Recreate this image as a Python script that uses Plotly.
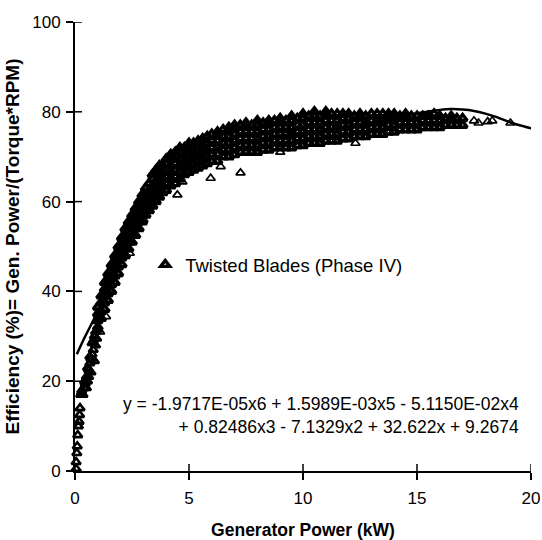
import plotly.graph_objects as go

# ---- data ----
low_x = [0.05, 0.05, 0.08, 0.1, 0.12, 0.15, 0.18, 0.2, 0.22, 0.25, 0.28, 0.3, 0.35, 0.4, 0.42, 0.45,
         0.5, 0.5, 0.55, 0.6, 0.6, 0.65, 0.7, 0.7, 0.75, 0.75, 0.8, 0.8, 0.85, 0.85, 0.9, 0.9, 0.95,
         1.0, 0.55, 0.65]
low_y = [0.5, 2, 4, 5.5, 8, 10, 11, 12.5, 14, 17, 17.5, 18, 17, 18.5, 20, 19.5,
         18.5, 21, 20, 21, 22.5, 24, 25, 22, 26, 28.5, 27, 29, 24.5, 30, 28, 31, 29.5,
         31.5, 23, 25.5]

band_x = [1.0, 1.15, 1.3, 1.45, 1.6, 1.75, 1.9, 2.05, 2.2, 2.35, 2.5, 2.65, 2.8, 2.95, 3.1, 3.25,
          3.4, 3.55, 3.7, 3.85, 4.0, 4.2, 4.4, 4.6, 4.8, 5.0, 5.2, 5.4, 5.6, 5.8, 6.0, 6.25, 6.5,
          6.75, 7.0, 7.25, 7.5, 7.75, 8.0, 8.25, 8.5, 8.75, 9.0, 9.25, 9.5, 9.75, 10.0, 10.25,
          10.5, 10.75, 11.0, 11.25, 11.5, 11.75, 12.0, 12.25, 12.5, 12.75, 13.0, 13.25, 13.5,
          13.75, 14.0, 14.25, 14.5, 14.75, 15.0, 15.25, 15.5, 15.75, 16.0, 16.25, 16.5, 16.75, 17.0]
band_y = [
    [32, 33.5, 35, 36.5], [34, 35.5, 37.5, 39], [36, 37.5, 39, 40.5, 42], [38, 39.5, 41, 42.5, 44],
    [40, 41.5, 43, 44.5, 46], [42, 43.5, 45, 46.5, 48], [44, 45.5, 47, 48.5, 50],
    [46, 47.5, 49, 50.5, 52], [48, 49.5, 51, 52.5, 54], [49.5, 51, 52.5, 54, 55.5],
    [51, 52.5, 54, 55.5, 57], [52.5, 54, 55.5, 57, 58.5], [54, 55.5, 57, 58.5, 60],
    [55.5, 57, 58.5, 60, 61.5], [57, 58.5, 60, 61.5, 63], [58, 59.5, 61, 62.5, 64],
    [59, 60.5, 62, 63.5, 65, 66], [60, 61.5, 63, 64.5, 66, 67], [61, 62.5, 64, 65.5, 67, 68],
    [62, 63.5, 65, 66.5, 68], [62.5, 64, 65.5, 67, 68.5, 69.5], [63.5, 65, 66.5, 68, 69.5, 70.5],
    [64, 65.5, 67, 68.5, 70, 71], [65, 66.5, 68, 69.5, 71, 72], [66, 67.5, 69, 70.5, 72],
    [66.5, 68, 69.5, 71, 72.5, 73], [67, 68.5, 70, 71.5, 73], [67.5, 69, 70.5, 72, 73.5],
    [68, 69.5, 71, 72.5, 74], [68.5, 70, 71.5, 73, 74.5], [69, 70.5, 72, 73.5, 75],
    [69, 70.5, 72, 73.5, 75, 75.5], [70, 71.5, 73, 74.5, 76], [70, 71.5, 73, 74.5, 76, 76.5],
    [70.5, 72, 73.5, 75, 76.5, 77], [71, 72.5, 74, 75.5, 77], [71, 72.5, 74, 75.5, 77, 77.5],
    [71, 72.5, 74, 75.5, 77], [71, 72.5, 74, 75.5, 77, 78], [71.5, 73, 74.5, 76, 77.5],
    [71.5, 73, 74.5, 76, 77.5, 78], [72, 73.5, 75, 76.5, 78], [72, 73.5, 75, 76.5, 78, 78.5],
    [72, 73.5, 75, 76.5, 78], [72, 73.5, 75, 76.5, 78, 79], [72.5, 74, 75.5, 77, 78.5],
    [72.5, 74, 75.5, 77, 78.5, 79.5], [73, 74.5, 76, 77.5, 79], [73, 74.5, 76, 77.5, 79, 80],
    [73, 74.5, 76, 77.5, 79], [73.5, 75, 76.5, 78, 79.5, 80], [73.5, 75, 76.5, 78, 79.5],
    [73.5, 75, 76.5, 78, 79.5], [74, 75.5, 77, 78.5, 79.5], [74, 75.5, 77, 78.5, 79.5],
    [74.5, 76, 77.5, 79], [74.5, 76, 77.5, 79, 79.5], [74.5, 76, 77.5, 79], [75, 76.5, 78, 79.5],
    [75, 76.5, 78, 79.5], [75, 76.5, 78, 79.5], [75.5, 77, 78.5, 79.5], [75.5, 77, 78.5, 79.5],
    [76, 77.5, 79], [76, 77.5, 79, 79.5], [76, 77.5, 79], [76, 77.5, 79], [76.5, 78, 79],
    [76.5, 78, 79], [76.5, 78, 79.5], [76.5, 78, 79], [77, 78.5], [77, 78.5, 79], [77, 78.5],
    [77, 78.5]]

sparse_x = [1.36, 1.58, 4.49, 4.71, 5.95, 6.39, 7.26, 17.5, 17.7, 18.1, 18.3, 19.1, 20.03,
            1.1, 2.4, 3.0, 12.3, 9.0]
sparse_y = [34.4, 40.3, 61.5, 64.4, 65.2, 67.8, 66.4, 78, 77.5, 77.8, 78, 77.5, 77.8,
            31, 48.5, 56, 73, 71]

trend_x = [0.08, 0.4, 0.8, 1.0, 1.5, 2.0, 2.5, 3.0, 3.5, 4.0, 5.0, 6.0, 7.0, 8.0, 9.0, 10, 11,
           12, 13, 14, 15, 16, 16.5, 17, 17.5, 18, 18.5, 19, 19.5, 20.1]
trend_y = [26, 29.5, 33.5, 35.5, 43, 50, 55.5, 60, 63.5, 66, 69.5, 71.5, 72.8, 73.8, 74.6,
           75.3, 76, 76.8, 77.7, 78.7, 79.7, 80.4, 80.6, 80.5, 80.2, 79.6, 78.8, 77.8, 77, 76.2]

x_ticks = [0, 5, 10, 15, 20]
y_ticks = [0, 20, 40, 60, 80, 100]

series_name = "Twisted Blades (Phase IV)"
equation = ("y = -1.9717E-05x6 + 1.5989E-03x5 - 5.1150E-02x4<br>"
            "+ 0.82486x3 - 7.1329x2 + 32.622x + 9.2674")

# ---- assemble (dense band drawn with heavier outline, isolated points lighter) ----
all_x, all_y, widths = [], [], []
for xx, yy in zip(low_x, low_y):
    all_x.append(xx); all_y.append(yy); widths.append(2.6)
for bx, ys in zip(band_x, band_y):
    for yy in ys:
        all_x.append(bx); all_y.append(yy); widths.append(3.4)
for xx, yy in zip(sparse_x, sparse_y):
    all_x.append(xx); all_y.append(yy); widths.append(1.7)

FONT = "Liberation Sans, Arial, sans-serif"

fig = go.Figure()
fig.add_trace(go.Scatter(
    x=all_x, y=all_y, mode="markers", name=series_name, cliponaxis=False,
    marker=dict(symbol="triangle-up-open", size=8, color="black",
                line=dict(width=widths, color="black")),
))
fig.add_trace(go.Scatter(
    x=trend_x, y=trend_y, mode="lines", showlegend=False, cliponaxis=False,
    line=dict(color="black", width=2.5, shape="spline"),
))

# inner halves of the crossing tick marks
shapes = []
for t in x_ticks:
    shapes.append(dict(type="line", xref="x", yref="y", ysizemode="pixel", yanchor=0,
                       x0=t, x1=t, y0=0, y1=7, line=dict(color="black", width=1.5)))
for t in y_ticks:
    shapes.append(dict(type="line", xref="x", yref="y", xsizemode="pixel", xanchor=0,
                       y0=t, y1=t, x0=0, x1=7, line=dict(color="black", width=1.5)))

fig.update_layout(
    width=542, height=540,
    margin=dict(l=75, r=11, t=22, b=69, autoexpand=False),
    paper_bgcolor="white", plot_bgcolor="white",
    font=dict(family=FONT, color="black", size=15),
    shapes=shapes,
    showlegend=True,
    legend=dict(x=0.154, y=0.459, xanchor="left", yanchor="middle",
                bgcolor="rgba(0,0,0,0)", font=dict(size=18.5, family=FONT),
                itemsizing="trace", itemwidth=30),
    annotations=[dict(text=equation, xref="paper", yref="paper", x=0.978, y=0.124,
                      xanchor="right", yanchor="middle", align="right", showarrow=False,
                      font=dict(size=17.5, family=FONT, color="black"))],
)
fig.update_xaxes(
    range=[0, 20], tickvals=x_ticks, ticks="outside", ticklen=7, tickwidth=1.5,
    tickcolor="black", showline=True, linecolor="black", linewidth=2, showgrid=False,
    zeroline=False, tickfont=dict(size=17, family=FONT), ticklabelstandoff=4,
    title=dict(text="<b>Generator Power (kW)</b>", font=dict(size=17.5, family=FONT), standoff=16),
)
fig.update_yaxes(
    range=[0, 100], tickvals=y_ticks, ticks="outside", ticklen=7, tickwidth=1.5,
    tickcolor="black", showline=True, linecolor="black", linewidth=2, showgrid=False,
    zeroline=False, tickfont=dict(size=17, family=FONT), ticklabelstandoff=2,
    title=dict(text="<b>Efficiency (%)= Gen. Power/(Torque*RPM)</b>",
               font=dict(size=19, family=FONT), standoff=8),
)
fig.update_xaxes(tickprefix="<b>", ticksuffix="</b>")
fig.update_yaxes(tickprefix="<b>", ticksuffix="</b>")

fig.write_html("out.html")
